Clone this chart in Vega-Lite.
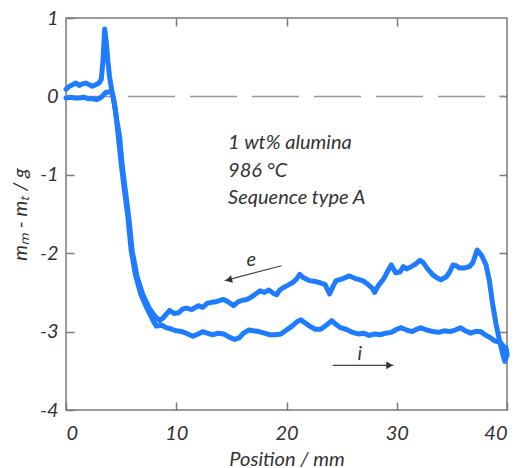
{
  "$schema": "https://vega.github.io/schema/vega-lite/v6.json",
  "autosize": {"type": "none"},
  "padding": {"left": 66, "top": 18, "right": 12, "bottom": 58},
  "width": 441,
  "height": 392,
  "background": "white",
  "config": {
    "font": "Lato",
    "view": {"stroke": "#7a7a7a", "strokeWidth": 1.5},
    "axis": {
      "grid": false,
      "domain": false,
      "tickColor": "#7a7a7a",
      "tickWidth": 1.5,
      "tickSize": -8,
      "labelFont": "Lato",
      "labelFontStyle": "italic",
      "labelFontSize": 20,
      "labelColor": "#333333",
      "titleFont": "Lato",
      "titleFontStyle": "italic",
      "titleFontWeight": "normal",
      "titleFontSize": 20,
      "titleColor": "#333333"
    }
  },
  "datasets": {
    "curves": [
      {"s":"i","x":0.0,"y":0.09},{"s":"i","x":0.3,"y":0.13},{"s":"i","x":0.6,"y":0.15},{"s":"i","x":0.9,"y":0.17},{"s":"i","x":1.2,"y":0.14},{"s":"i","x":1.5,"y":0.16},{"s":"i","x":1.8,"y":0.17},{"s":"i","x":2.1,"y":0.15},{"s":"i","x":2.4,"y":0.13},{"s":"i","x":2.7,"y":0.15},{"s":"i","x":3.0,"y":0.17},{"s":"i","x":3.2,"y":0.22},{"s":"i","x":3.35,"y":0.45},{"s":"i","x":3.51,"y":0.86},{"s":"i","x":3.65,"y":0.7},{"s":"i","x":3.8,"y":0.45},{"s":"i","x":3.95,"y":0.25},{"s":"i","x":4.15,"y":0.08},{"s":"i","x":4.32,"y":-0.04},{"s":"i","x":4.5,"y":-0.2},{"s":"i","x":4.7,"y":-0.45},{"s":"i","x":5.0,"y":-0.85},{"s":"i","x":5.3,"y":-1.2},{"s":"i","x":5.6,"y":-1.52},{"s":"i","x":5.9,"y":-1.95},{"s":"i","x":6.3,"y":-2.28},{"s":"i","x":6.8,"y":-2.53},{"s":"i","x":7.4,"y":-2.72},{"s":"i","x":7.9,"y":-2.86},{"s":"i","x":8.2,"y":-2.93},{"s":"i","x":8.7,"y":-2.92},{"s":"i","x":9.1,"y":-2.95},{"s":"i","x":9.6,"y":-2.97},{"s":"i","x":10.0,"y":-2.99},{"s":"i","x":10.5,"y":-3.0},{"s":"i","x":10.9,"y":-3.02},{"s":"i","x":11.5,"y":-3.06},{"s":"i","x":12.0,"y":-3.03},{"s":"i","x":12.4,"y":-3.0},{"s":"i","x":12.8,"y":-3.02},{"s":"i","x":13.3,"y":-3.04},{"s":"i","x":13.8,"y":-3.02},{"s":"i","x":14.3,"y":-3.03},{"s":"i","x":14.8,"y":-3.07},{"s":"i","x":15.3,"y":-3.1},{"s":"i","x":15.7,"y":-3.08},{"s":"i","x":16.1,"y":-3.02},{"s":"i","x":16.6,"y":-2.98},{"s":"i","x":17.0,"y":-2.99},{"s":"i","x":17.5,"y":-3.0},{"s":"i","x":18.0,"y":-3.02},{"s":"i","x":18.5,"y":-3.04},{"s":"i","x":19.0,"y":-3.04},{"s":"i","x":19.5,"y":-3.03},{"s":"i","x":20.0,"y":-2.98},{"s":"i","x":20.5,"y":-2.93},{"s":"i","x":21.0,"y":-2.87},{"s":"i","x":21.3,"y":-2.85},{"s":"i","x":21.7,"y":-2.89},{"s":"i","x":22.1,"y":-2.93},{"s":"i","x":22.6,"y":-2.97},{"s":"i","x":23.1,"y":-2.97},{"s":"i","x":23.6,"y":-2.92},{"s":"i","x":24.1,"y":-2.86},{"s":"i","x":24.5,"y":-2.91},{"s":"i","x":24.9,"y":-2.95},{"s":"i","x":25.4,"y":-2.97},{"s":"i","x":26.0,"y":-3.01},{"s":"i","x":26.5,"y":-3.03},{"s":"i","x":27.0,"y":-3.02},{"s":"i","x":27.5,"y":-3.05},{"s":"i","x":28.0,"y":-3.03},{"s":"i","x":28.5,"y":-3.04},{"s":"i","x":29.0,"y":-3.02},{"s":"i","x":29.5,"y":-3.01},{"s":"i","x":30.0,"y":-2.97},{"s":"i","x":30.4,"y":-2.95},{"s":"i","x":30.9,"y":-2.98},{"s":"i","x":31.4,"y":-3.0},{"s":"i","x":31.8,"y":-2.97},{"s":"i","x":32.2,"y":-2.95},{"s":"i","x":32.7,"y":-2.98},{"s":"i","x":33.3,"y":-3.0},{"s":"i","x":33.8,"y":-3.01},{"s":"i","x":34.3,"y":-2.99},{"s":"i","x":34.8,"y":-3.0},{"s":"i","x":35.3,"y":-2.98},{"s":"i","x":35.8,"y":-2.95},{"s":"i","x":36.2,"y":-2.99},{"s":"i","x":36.7,"y":-3.02},{"s":"i","x":37.1,"y":-3.0},{"s":"i","x":37.6,"y":-3.0},{"s":"i","x":38.0,"y":-3.04},{"s":"i","x":38.4,"y":-3.07},{"s":"i","x":38.9,"y":-3.12},{"s":"i","x":39.3,"y":-3.13},{"s":"i","x":39.6,"y":-3.17},{"s":"i","x":39.8,"y":-3.35},{"s":"i","x":39.9,"y":-3.2},{"s":"i","x":40.0,"y":-3.28},
      {"s":"e","x":0.0,"y":-0.02},{"s":"e","x":0.4,"y":-0.01},{"s":"e","x":0.8,"y":-0.02},{"s":"e","x":1.2,"y":-0.02},{"s":"e","x":1.6,"y":-0.01},{"s":"e","x":2.0,"y":-0.03},{"s":"e","x":2.4,"y":-0.03},{"s":"e","x":2.8,"y":-0.04},{"s":"e","x":3.2,"y":-0.01},{"s":"e","x":3.6,"y":0.05},{"s":"e","x":4.0,"y":0.06},{"s":"e","x":4.2,"y":0.04},{"s":"e","x":4.4,"y":-0.1},{"s":"e","x":4.6,"y":-0.3},{"s":"e","x":4.85,"y":-0.5},{"s":"e","x":5.1,"y":-0.88},{"s":"e","x":5.4,"y":-1.22},{"s":"e","x":5.7,"y":-1.55},{"s":"e","x":6.0,"y":-1.97},{"s":"e","x":6.45,"y":-2.3},{"s":"e","x":6.95,"y":-2.52},{"s":"e","x":7.55,"y":-2.7},{"s":"e","x":8.1,"y":-2.81},{"s":"e","x":8.5,"y":-2.86},{"s":"e","x":8.85,"y":-2.82},{"s":"e","x":9.4,"y":-2.73},{"s":"e","x":9.8,"y":-2.77},{"s":"e","x":10.2,"y":-2.76},{"s":"e","x":10.6,"y":-2.71},{"s":"e","x":10.9,"y":-2.7},{"s":"e","x":11.4,"y":-2.72},{"s":"e","x":12.0,"y":-2.67},{"s":"e","x":12.4,"y":-2.69},{"s":"e","x":12.8,"y":-2.64},{"s":"e","x":13.1,"y":-2.63},{"s":"e","x":13.6,"y":-2.62},{"s":"e","x":14.0,"y":-2.6},{"s":"e","x":14.3,"y":-2.59},{"s":"e","x":14.7,"y":-2.62},{"s":"e","x":15.2,"y":-2.67},{"s":"e","x":15.6,"y":-2.62},{"s":"e","x":16.0,"y":-2.6},{"s":"e","x":16.4,"y":-2.59},{"s":"e","x":16.8,"y":-2.56},{"s":"e","x":17.2,"y":-2.52},{"s":"e","x":17.6,"y":-2.48},{"s":"e","x":18.0,"y":-2.5},{"s":"e","x":18.4,"y":-2.47},{"s":"e","x":18.8,"y":-2.51},{"s":"e","x":19.1,"y":-2.53},{"s":"e","x":19.4,"y":-2.47},{"s":"e","x":19.7,"y":-2.44},{"s":"e","x":20.1,"y":-2.41},{"s":"e","x":20.6,"y":-2.37},{"s":"e","x":20.9,"y":-2.33},{"s":"e","x":21.2,"y":-2.27},{"s":"e","x":21.5,"y":-2.31},{"s":"e","x":22.1,"y":-2.35},{"s":"e","x":22.6,"y":-2.36},{"s":"e","x":23.1,"y":-2.38},{"s":"e","x":23.5,"y":-2.4},{"s":"e","x":23.9,"y":-2.52},{"s":"e","x":24.2,"y":-2.43},{"s":"e","x":24.5,"y":-2.35},{"s":"e","x":25.0,"y":-2.33},{"s":"e","x":25.7,"y":-2.29},{"s":"e","x":26.2,"y":-2.32},{"s":"e","x":26.9,"y":-2.35},{"s":"e","x":27.4,"y":-2.4},{"s":"e","x":27.8,"y":-2.45},{"s":"e","x":28.0,"y":-2.5},{"s":"e","x":28.3,"y":-2.42},{"s":"e","x":28.8,"y":-2.33},{"s":"e","x":29.1,"y":-2.25},{"s":"e","x":29.5,"y":-2.15},{"s":"e","x":29.9,"y":-2.25},{"s":"e","x":30.3,"y":-2.24},{"s":"e","x":30.6,"y":-2.17},{"s":"e","x":30.9,"y":-2.2},{"s":"e","x":31.2,"y":-2.18},{"s":"e","x":31.7,"y":-2.14},{"s":"e","x":32.1,"y":-2.09},{"s":"e","x":32.4,"y":-2.12},{"s":"e","x":32.8,"y":-2.2},{"s":"e","x":33.3,"y":-2.28},{"s":"e","x":33.6,"y":-2.31},{"s":"e","x":34.0,"y":-2.34},{"s":"e","x":34.5,"y":-2.3},{"s":"e","x":34.8,"y":-2.24},{"s":"e","x":35.1,"y":-2.15},{"s":"e","x":35.4,"y":-2.16},{"s":"e","x":35.7,"y":-2.19},{"s":"e","x":36.1,"y":-2.19},{"s":"e","x":36.6,"y":-2.17},{"s":"e","x":36.9,"y":-2.12},{"s":"e","x":37.3,"y":-1.96},{"s":"e","x":37.7,"y":-2.03},{"s":"e","x":38.1,"y":-2.15},{"s":"e","x":38.4,"y":-2.35},{"s":"e","x":38.7,"y":-2.65},{"s":"e","x":39.0,"y":-2.9},{"s":"e","x":39.3,"y":-3.1},{"s":"e","x":39.6,"y":-3.28},{"s":"e","x":39.8,"y":-3.38},{"s":"e","x":40.0,"y":-3.3}
    ],
    "zero": [
      {"x":0,"x2":39.6,"y":0}
    ],
    "notes": [
      {"x":14.7,"y":-0.59,"label":"1 wt% alumina"},
      {"x":14.7,"y":-0.95,"label":"986 °C"},
      {"x":14.7,"y":-1.3,"label":"Sequence type A"}
    ],
    "letters": [
      {"x":16.8,"y":-2.09,"label":"e"},
      {"x":26.65,"y":-3.29,"label":"i"}
    ],
    "arrows": [
      {"dir":"e","x":14.4,"y":-2.35,"x2":19.55,"y2":-2.16},
      {"dir":"i","x":24.2,"y":-3.43,"x2":29.7,"y2":-3.43}
    ],
    "heads": [
      {"dir":"e","x":14.76,"y":-2.34},
      {"dir":"i","x":29.35,"y":-3.43}
    ]
  },
  "layer": [
    {
      "data": {"name": "zero"},
      "mark": {"type": "rule", "color": "#999999", "strokeWidth": 1.5, "strokeDash": [47, 15]},
      "encoding": {
        "x": {"field": "x", "type": "quantitative", "scale": {"domain": [0, 40], "nice": false}, "axis": null},
        "x2": {"field": "x2"},
        "y": {"field": "y", "type": "quantitative", "scale": {"domain": [-4, 1], "nice": false}, "axis": null}
      }
    },
    {
      "data": {"name": "curves"},
      "mark": {"type": "line", "color": "#1f7bff", "strokeWidth": 5, "strokeJoin": "round", "strokeCap": "round"},
      "encoding": {
        "x": {"field": "x", "type": "quantitative", "scale": {"domain": [0, 40], "nice": false},
              "axis": {"orient": "bottom", "values": [0, 10, 20, 30, 40], "labelPadding": 21, "title": "Position  /  mm", "titleX": 220.5, "titleY": 55, "titleBaseline": "alphabetic", "titleAnchor": null}},
        "y": {"field": "y", "type": "quantitative", "scale": {"domain": [-4, 1], "nice": false},
              "axis": {"orient": "left", "values": [-4, -3, -2, -1, 0, 1], "labelPadding": 16, "labelExpr": "'' + datum.value", "title": "mₘ - mₜ  /  g", "titleX": -40, "titleY": 196, "titleAngle": -90, "titleBaseline": "alphabetic"}},
        "detail": {"field": "s"}
      }
    },
    {
      "data": {"name": "curves"},
      "mark": {"type": "point", "opacity": 0},
      "encoding": {
        "x": {"field": "x", "type": "quantitative", "axis": {"orient": "top", "values": [10, 20, 30], "labels": false, "title": null}},
        "y": {"field": "y", "type": "quantitative", "axis": {"orient": "right", "values": [-3, -2, -1, 0], "labels": false, "title": null}}
      }
    },
    {
      "data": {"name": "notes"},
      "mark": {"type": "text", "align": "left", "baseline": "middle", "fontSize": 20, "fontStyle": "italic", "font": "Lato", "color": "#333333"},
      "encoding": {
        "x": {"field": "x", "type": "quantitative", "axis": null},
        "y": {"field": "y", "type": "quantitative", "axis": null},
        "text": {"field": "label"}
      }
    },
    {
      "data": {"name": "letters"},
      "mark": {"type": "text", "align": "center", "baseline": "middle", "fontSize": 20, "fontStyle": "italic", "font": "Lato", "color": "#333333"},
      "encoding": {
        "x": {"field": "x", "type": "quantitative", "axis": null},
        "y": {"field": "y", "type": "quantitative", "axis": null},
        "text": {"field": "label"}
      }
    },
    {
      "data": {"name": "arrows"},
      "mark": {"type": "rule", "color": "#444444", "strokeWidth": 1.2},
      "encoding": {
        "x": {"field": "x", "type": "quantitative", "axis": null},
        "y": {"field": "y", "type": "quantitative", "axis": null},
        "x2": {"field": "x2"},
        "y2": {"field": "y2"}
      }
    },
    {
      "data": {"name": "heads"},
      "transform": [{"filter": "datum.dir == 'e'"}],
      "mark": {"type": "point", "shape": "triangle-left", "filled": true, "size": 60, "color": "#333333", "opacity": 1, "angle": 345},
      "encoding": {
        "x": {"field": "x", "type": "quantitative", "axis": null},
        "y": {"field": "y", "type": "quantitative", "axis": null}
      }
    },
    {
      "data": {"name": "heads"},
      "transform": [{"filter": "datum.dir == 'i'"}],
      "mark": {"type": "point", "shape": "triangle-right", "filled": true, "size": 60, "color": "#333333", "opacity": 1},
      "encoding": {
        "x": {"field": "x", "type": "quantitative", "axis": null},
        "y": {"field": "y", "type": "quantitative", "axis": null}
      }
    }
  ],
  "resolve": {"axis": {"x": "independent", "y": "independent"}}
}
